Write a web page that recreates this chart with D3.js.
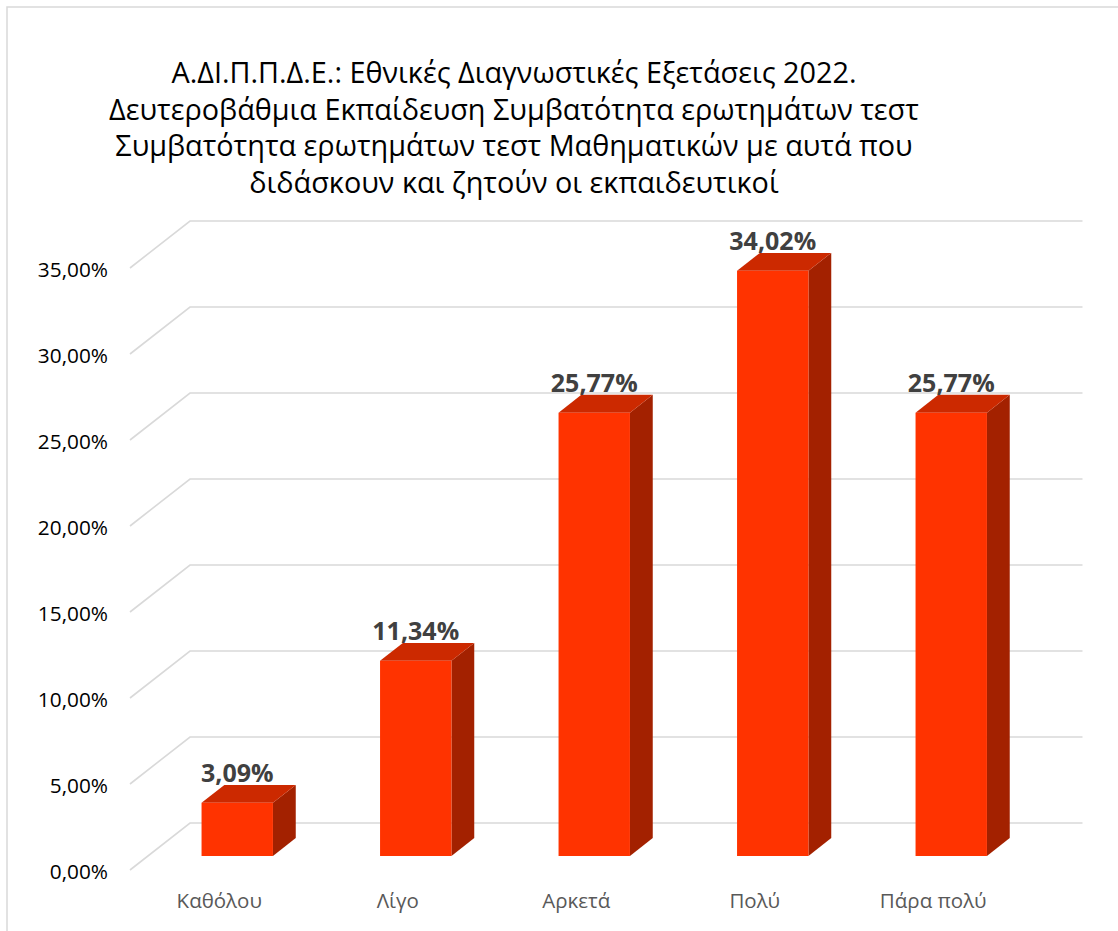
<!DOCTYPE html>
<html>
<head>
<meta charset="utf-8">
<script src="https://cdn.jsdelivr.net/npm/d3@7"></script>
<style>
  html, body { margin: 0; padding: 0; background: #fff; }
  svg { display: block; }
</style>
</head>
<body>
<svg id="chart" width="1118" height="931"></svg>
<script>
const titleLines = [
  "Α.ΔΙ.Π.Π.Δ.Ε.: Εθνικές Διαγνωστικές Εξετάσεις 2022.",
  "Δευτεροβάθμια Εκπαίδευση Συμβατότητα ερωτημάτων τεστ",
  "Συμβατότητα ερωτημάτων τεστ Μαθηματικών με αυτά που",
  "διδάσκουν και ζητούν οι εκπαιδευτικοί"
];
const categories = ["Καθόλου", "Λίγο", "Αρκετά", "Πολύ", "Πάρα πολύ"];
const values = [0.0309, 0.1134, 0.2577, 0.3402, 0.2577];
const yTicks = [0, 0.05, 0.10, 0.15, 0.20, 0.25, 0.30, 0.35];

const svg = d3.select("#chart");
const locale = d3.formatLocale({decimal: ",", thousands: ".", grouping: [3], currency: ["", "€"]});
const fmt = locale.format(".2%");

// frame
svg.append("rect").attr("x", 7).attr("y", 7).attr("width", 1200).attr("height", 1000)
  .attr("fill", "none").attr("stroke", "#d9d9d9").attr("stroke-width", 1.5);

// title
svg.append("g").selectAll("text").data(titleLines).join("text")
  .attr("x", 514).attr("y", (d, i) => 83 + i * 36.5)
  .attr("text-anchor", "middle")
  .attr("font-family", "'Open Sans', sans-serif")
  .attr("font-size", 28.8)
  .attr("fill", "#000")
  .text(d => d);

// scales (front plane)
const x = d3.scaleBand().domain(categories).range([130, 1022.5]).padding(0);
const y = d3.scaleLinear().domain([0, 0.35]).range([870, 268]);
const DX = 60, DY = -47;          // full depth offset
const D0 = 0.3, D1 = 0.68;        // bar depth span
const proj = (px, py, d) => [px + DX * d, py + DY * d];
const barW = x.bandwidth() * 0.4;

// gridlines
const grid = svg.append("g").attr("stroke", "#d9d9d9").attr("stroke-width", 1.6).attr("fill", "none");
yTicks.forEach(t => {
  const a = proj(x.range()[0], y(t), 0);
  const b = proj(x.range()[0], y(t), 1);
  const c = proj(x.range()[1], y(t), 1);
  grid.append("path").attr("d", d3.line()([a, b, c]));
});

// y tick labels
svg.append("g").selectAll("text").data(yTicks).join("text")
  .attr("x", 108).attr("y", d => y(d) + 9)
  .attr("text-anchor", "end")
  .attr("font-family", "'Open Sans', sans-serif")
  .attr("font-size", 20.8)
  .attr("fill", "#000")
  .text(d => fmt(d));

// bars
const bars = svg.append("g");
categories.forEach((c, i) => {
  const v = values[i];
  const cx = x(c) + x.bandwidth() / 2;
  const xl = cx - barW / 2, xr = cx + barW / 2;
  const yt = y(v), yb = y(0);
  const front = [proj(xl, yt, D0), proj(xr, yt, D0), proj(xr, yb, D0), proj(xl, yb, D0)];
  const top = [proj(xl, yt, D0), proj(xr, yt, D0), proj(xr, yt, D1), proj(xl, yt, D1)];
  const side = [proj(xr, yt, D0), proj(xr, yt, D1), proj(xr, yb, D1), proj(xr, yb, D0)];
  bars.append("path").attr("d", d3.line()(side) + "Z").attr("fill", "#a32100");
  bars.append("path").attr("d", d3.line()(top) + "Z").attr("fill", "#cc2900");
  bars.append("path").attr("d", d3.line()(front) + "Z").attr("fill", "#ff3300");
  const lp = proj(cx, yt, D0);
  bars.append("text")
    .attr("x", lp[0]).attr("y", proj(cx, yt, D1)[1] - 3)
    .attr("text-anchor", "middle")
    .attr("font-family", "'Open Sans', sans-serif")
    .attr("font-weight", "bold")
    .attr("font-size", 25)
    .attr("fill", "#404040")
    .text(fmt(v));
});

// category labels
svg.append("g").selectAll("text").data(categories).join("text")
  .attr("x", d => x(d) + x.bandwidth() / 2).attr("y", 908)
  .attr("text-anchor", "middle")
  .attr("font-family", "'Open Sans', sans-serif")
  .attr("font-size", 20.5)
  .attr("fill", "#595959")
  .text(d => d);
</script>
</body>
</html>
